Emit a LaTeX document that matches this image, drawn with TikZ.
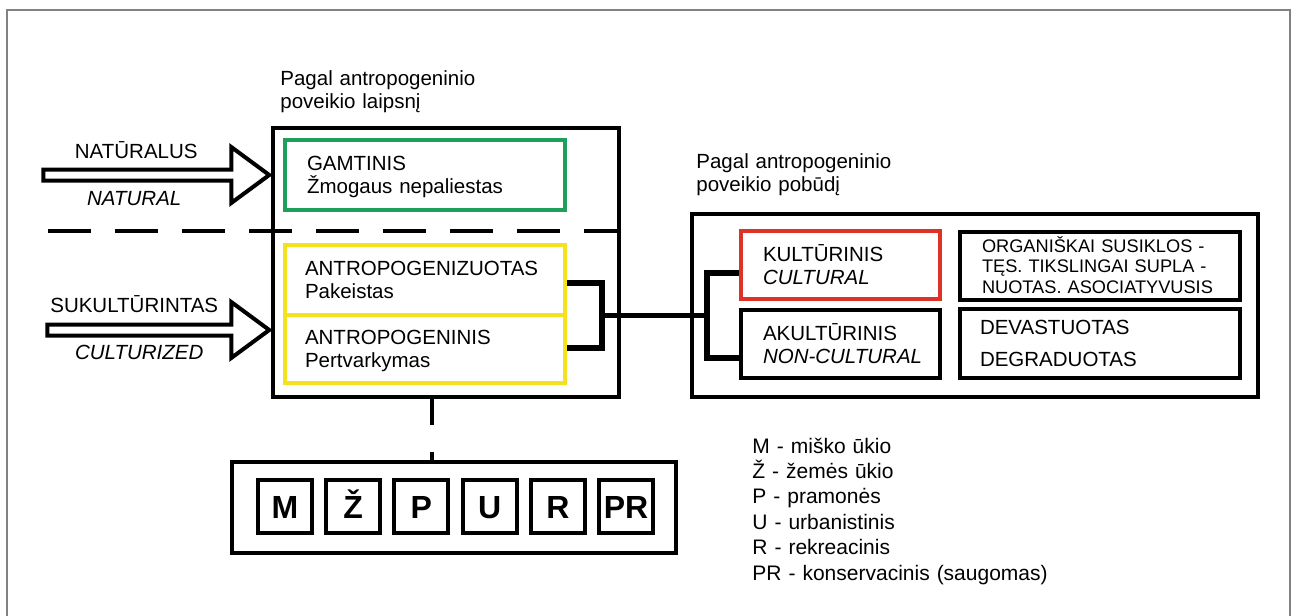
\documentclass[tikz,border=0pt]{standalone}
\usepackage{fontspec}
\setmainfont{Liberation Sans}
\usetikzlibrary{calc}
\definecolor{gamtgreen}{RGB}{30,160,90}
\definecolor{kultred}{RGB}{220,50,40}
\definecolor{antyellow}{RGB}{245,225,30}
\definecolor{framegray}{RGB}{130,130,130}

\begin{document}
\begin{tikzpicture}[x=0.5pt,y=-0.5pt]
    \tikzstyle{every node}=[inner sep=0, font=\fontsize{10.25}{11.5}\selectfont]
    \tikzstyle{box}=[draw, line width=2pt, rectangle, align=left, text height=7.4pt, text depth=11.5pt]
    \tikzstyle{bigbox}=[draw, line width=1.75pt, rectangle]
    \tikzstyle{code}=[draw, line width=2pt, minimum width=27pt, minimum height=26.5pt, font=\fontsize{16}{16}\selectfont\bfseries, text height=11.5pt, text depth=0pt]
    \tikzstyle{brk}=[line width=2.6pt]
    \tikzstyle{blockarr}=[line width=2pt, fill=white]
    \useasboundingbox (0,0) rectangle (1299,615);
    \clip (0,0) rectangle (1299,615);
    \draw[framegray, line width=0.75pt] (7,10) rectangle (1290,640);
    % headings
    \node[anchor=base west, text width=120pt] (hdL) at (280,85) {Pagal antropogeninio\\poveikio laipsnį};
    \node[anchor=base west, text width=120pt] (hdR) at (696,168) {Pagal antropogeninio\\poveikio pobūdį};
    % left block
    \node[bigbox, minimum width=173pt, minimum height=134.5pt] (boxL) at (446,262.5) {};
    \node[box, draw=gamtgreen, minimum width=140pt, minimum height=35pt, text width=118pt, inner xsep=11pt] (gamt) at (425,175) {GAMTINIS\\Žmogaus nepaliestas};
    \node[box, draw=antyellow, minimum width=140pt, minimum height=35pt, text width=120pt, inner xsep=10pt] (antz) at (425,280) {ANTROPOGENIZUOTAS\\Pakeistas};
    \node[box, draw=antyellow, minimum width=140pt, minimum height=34pt, text width=120pt, inner xsep=10pt] (antn) at (425,349) {ANTROPOGENINIS\\Pertvarkymas};
    % dashed border natural / culturized
    \coordinate (dashS) at (48,231);
    \draw[line width=2pt, dash pattern=on 21.5pt off 12pt] (dashS) -- (dashS -| boxL.east);
    % block arrows
    \coordinate (tipN) at ($(boxL.west |- gamt)+(-2,0)$);
    \coordinate (tipS) at ($(tipN)+(0,155)$);
    \draw[blockarr] (tipN) -- ++(-38,-28) -- ++(0,22.5) -- ++(-188,0) -- ++(0,11) -- ++(188,0) -- ++(0,22.5) -- cycle;
    \draw[blockarr] (tipS) -- ++(-38,-28) -- ++(0,22.5) -- ++(-184,0) -- ++(0,11) -- ++(184,0) -- ++(0,22.5) -- cycle;
    \node[anchor=base] (natLt) at ($(tipN)+(-133,-17)$) {NATŪRALUS};
    \node[anchor=base] (natEn) at ($(tipN)+(-135,30)$) {\itshape NATURAL};
    \node[anchor=base] (sukLt) at ($(tipS)+(-135,-18)$) {SUKULTŪRINTAS};
    \node[anchor=base] (sukEn) at ($(tipS)+(-130,29)$) {\itshape CULTURIZED};
    % right block
    \node[bigbox, minimum width=283pt, minimum height=91.5pt] (boxR) at (975,305.5) {};
    \node[box, draw=kultred, minimum width=99.5pt, minimum height=34pt, text width=77.5pt, inner xsep=11pt, text depth=11pt] (kult) at (840.5,265) {KULTŪRINIS\\\textit{CULTURAL}};
    \node[box, minimum width=99.5pt, minimum height=34pt, text width=77.5pt, inner xsep=11pt, text depth=11pt] (akult) at (840.5,344) {AKULTŪRINIS\\\mbox{\textit{NON-CULTURAL}}};
    \node[box, minimum width=140pt, minimum height=34pt, text width=118pt, inner xsep=11pt, font=\fontsize{9.1}{10.25}\selectfont, text height=6.5pt, text depth=20.5pt] (org) at (1100,266) {\makebox[118pt][s]{ORGANIŠKAI SUSIKLOS -}\\\makebox[118pt][s]{TĘS. TIKSLINGAI SUPLA -}\\\makebox[118pt][s]{NUOTAS. ASOCIATYVUSIS}};
    \node[box, minimum width=140pt, minimum height=34.5pt, text width=120pt, inner xsep=10pt, font=\fontsize{10.25}{16}\selectfont, text depth=16pt] (dev) at (1100,343.5) {DEVASTUOTAS\\DEGRADUOTAS};
    % brackets
    \coordinate (jL) at (602,315.5);
    \coordinate (jR) at (707,315.5);
    \draw[brk] ($(antz.east)+(0,3)$) -| (jL) |- ($(antn.east)+(0,-1)$);
    \draw[brk] (jL) -- (jR);
    \draw[brk] ($(kult.west)+(0,8)$) -| (jR) |- ($(akult.west)+(0,14)$);
    % land use codes
    \node[bigbox, minimum width=222pt, minimum height=45.5pt] (codes) at (454,507.5) {};
    \foreach \c [count=\i from 0] in {M,Ž,P,U,R,PR}
        \node[code] (c\i) at (285+68.2*\i,506.5) {\c};
    \coordinate (drop) at (432,400);
    \draw[line width=2pt, dash pattern=on 13pt off 13.5pt] (drop |- boxL.south) -- (drop |- codes.north);
    \node[anchor=base west, text width=180pt, font=\fontsize{10.5}{12.7}\selectfont] (legend) at (752,453) {M - miško ūkio\\Ž - žemės ūkio\\P - pramonės\\U - urbanistinis\\R - rekreacinis\\PR - konservacinis (saugomas)};
\end{tikzpicture}
\end{document}
